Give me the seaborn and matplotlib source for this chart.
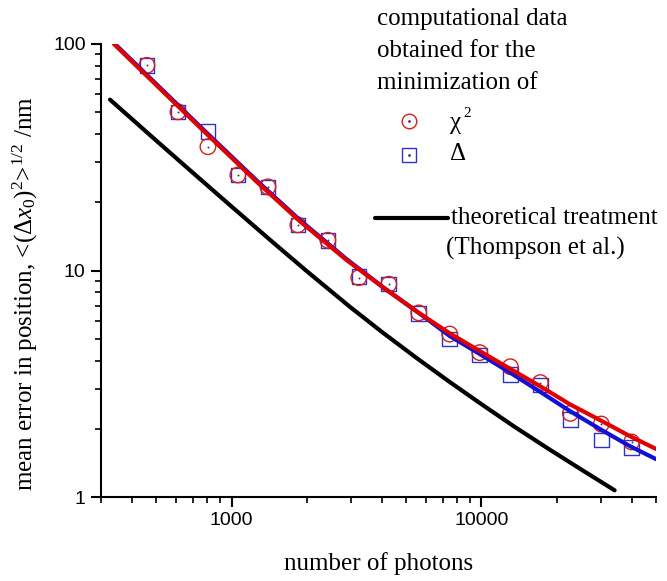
import numpy as np
import pandas as pd
import matplotlib.pyplot as plt
import seaborn as sns
from matplotlib.lines import Line2D
from matplotlib.ticker import FuncFormatter

sns.set_style('ticks', {'axes.edgecolor': 'black', 'xtick.color': 'black',
                        'ytick.color': 'black', 'axes.labelcolor': 'black',
                        'text.color': 'black'})
plt.rcParams['font.family'] = ['Liberation Serif', 'DejaVu Serif']
plt.rcParams['mathtext.fontset'] = 'custom'
plt.rcParams['mathtext.rm'] = 'Liberation Serif'
plt.rcParams['mathtext.it'] = 'Liberation Serif:italic'
plt.rcParams['mathtext.bf'] = 'Liberation Serif:bold'

# simulated points (number of photons vs mean error, nm)
photons = [458, 610, 804, 1059, 1398, 1842, 2428, 3230, 4258, 5613,
           7468, 9845, 13060, 17220, 22700, 30200, 39930]
err_chi2 = [80.5, 50.2, 35.2, 26.4, 23.4, 15.9, 13.6, 9.3, 8.7, 6.5,
            5.24, 4.34, 3.76, 3.20, 2.34, 2.10, 1.75]
err_delta = [80.5, 50.2, 41.0, 26.4, 23.4, 15.9, 13.6, 9.4, 8.7, 6.45,
             4.98, 4.24, 3.48, 3.12, 2.20, 1.785, 1.65]

# fitted curves
fit_x = [338, 747, 1263, 1876, 2892, 4105, 5664, 7468, 9845, 12980,
         17220, 22560, 29730, 39200, 50000]
fit_chi2 = [100, 42.8, 24.6, 16.5, 11.1, 8.31, 6.46, 5.28, 4.41, 3.69,
            3.08, 2.57, 2.19, 1.86, 1.63]
fit_delta = [101, 43.3, 24.9, 16.7, 11.2, 8.33, 6.45, 5.14, 4.28, 3.55,
             2.91, 2.40, 2.00, 1.68, 1.47]

# Thompson et al. theory
theo_x = [326, 500, 700, 1000, 1450, 2000, 2972, 4000, 5500, 7465,
          10000, 13500, 18750, 25000, 34150]
theo_y = [56.8, 37.4, 27.0, 19.15, 13.43, 9.93, 6.92, 5.35, 4.11, 3.22,
          2.57, 2.05, 1.62, 1.326, 1.07]

W, H = 667, 581
fig, ax = plt.subplots(figsize=(W / 100, H / 100), dpi=100)
fig.subplots_adjust(left=101 / W, right=656 / W, top=1 - 44 / H, bottom=1 - 497 / H)

red = '#e00000'
blue = '#1010d8'
red_mk = '#d02020'
blue_mk = '#3030cc'

sns.lineplot(x=theo_x, y=theo_y, color='black', linewidth=3, ax=ax,
             estimator=None, sort=False)
sns.scatterplot(x=photons, y=err_delta, marker='s', s=110, facecolor='none',
                edgecolor=blue_mk, linewidth=1, ax=ax)
sns.scatterplot(x=photons, y=err_chi2, marker='o', s=125, facecolor='none',
                edgecolor=red_mk, linewidth=1, ax=ax)
sns.scatterplot(x=photons, y=err_chi2, marker='o', s=2, color='#553355',
                linewidth=0, ax=ax)
sns.lineplot(x=fit_x, y=fit_delta, color=blue, linewidth=3, ax=ax,
             estimator=None, sort=False)
sns.lineplot(x=fit_x, y=fit_chi2, color=red, linewidth=3, ax=ax,
             estimator=None, sort=False)

ax.set_xscale('log')
ax.set_yscale('log')
ax.set_xlim(300, 50000)
ax.set_ylim(1, 100)
fmt = FuncFormatter(lambda v, p: '%d' % round(v))
ax.xaxis.set_major_formatter(fmt)
ax.yaxis.set_major_formatter(fmt)
ax.xaxis.set_minor_formatter(FuncFormatter(lambda v, p: ''))
ax.yaxis.set_minor_formatter(FuncFormatter(lambda v, p: ''))

sns.despine(ax=ax)
for s in ['left', 'bottom']:
    ax.spines[s].set_linewidth(1.5)
ax.tick_params(which='major', direction='out', length=7, width=1.5, pad=4)
ax.tick_params(which='minor', direction='out', length=4, width=1.2)
for lab in ax.get_xticklabels() + ax.get_yticklabels():
    lab.set_fontfamily('Liberation Sans')
    lab.set_fontsize(14)

ax.set_xlabel('number of photons', fontsize=18)
ax.set_ylabel(r'mean error in position, <(Δ$x_0$)$^2$>$^{1/2}$ /nm', fontsize=18)
ax.xaxis.set_label_coords(0.5, -0.146)
ax.xaxis.label.set_va('center')
ax.yaxis.set_label_coords(-0.137, 0.45)
ax.yaxis.label.set_va('center')


def fx(px):
    return px / W


def fy(py):
    return 1 - py / H


# hand-made legend
fs = 18
fig.text(fx(377), fy(25), 'computational data', fontsize=fs, va='baseline')
fig.text(fx(377), fy(57), 'obtained for the', fontsize=fs, va='baseline')
fig.text(fx(377), fy(89), 'minimization of', fontsize=fs, va='baseline')
fig.add_artist(Line2D([fx(409)], [fy(121)], marker='o', ms=10.5, mfc='none',
                      mec=red_mk, mew=1, ls=''))
fig.add_artist(Line2D([fx(409)], [fy(155)], marker='s', ms=9.5, mfc='none',
                      mec=blue_mk, mew=1, ls=''))
for yy in (121, 155):
    fig.add_artist(Line2D([fx(409)], [fy(yy)], marker='o', ms=1.0,
                          color='#553355', ls=''))
fig.text(fx(450), fy(129), 'χ', fontsize=fs, va='baseline')
fig.text(fx(463), fy(117), '2', fontsize=11, va='baseline')
fig.text(fx(450), fy(160), 'Δ', fontsize=fs, va='baseline')
fig.add_artist(Line2D([fx(375), fx(448)], [fy(218), fy(218)], color='black',
                      lw=3, solid_capstyle='round'))
fig.text(fx(451), fy(224), 'theoretical treatment', fontsize=fs, va='baseline')
fig.text(fx(446), fy(255), '(Thompson et al.)', fontsize=fs, va='baseline')

fig.savefig('out.png', dpi=100)
